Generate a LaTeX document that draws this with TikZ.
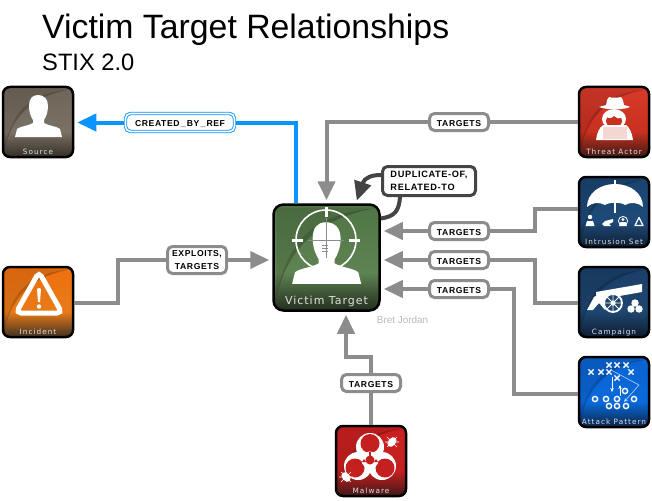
\documentclass[tikz,border=0pt]{standalone}
\usepackage{fontspec}
\setmainfont{Liberation Sans}
\newfontfamily\lblfont{Liberation Sans}[LetterSpace=7]
\newfontfamily\icofont{DejaVu Sans}[LetterSpace=14]
\newfontfamily\icobig{DejaVu Sans}[LetterSpace=9]
\usetikzlibrary{arrows.meta}
\definecolor{gline}{HTML}{8C8C8C}
\definecolor{dline}{HTML}{444444}
\definecolor{bline}{HTML}{0A94FF}
\newcommand{\defshade}[4]{%
  \definecolor{#1d}{HTML}{#2}\definecolor{#1m}{HTML}{#3}\definecolor{#1t}{HTML}{#4}%
  \pgfdeclareverticalshading{#1}{100bp}{color(0bp)=(#1d); color(25bp)=(#1d); color(43bp)=(#1m); color(75bp)=(#1t); color(100bp)=(#1t)}}
\defshade{shsrc}{342E28}{7A7165}{6F655A}
\defshade{shthr}{3E1A14}{C8301F}{D93A2A}
\defshade{shint}{0E1E33}{1E4A78}{1A4470}
\defshade{shcam}{0E1C30}{1D4670}{1A3F68}
\defshade{shatk}{0A2446}{0A6ADB}{0A62D0}
\defshade{shinc}{3E3024}{E87A18}{F0700F}
\defshade{shmal}{401818}{C4201F}{CC2020}
\defshade{shvic}{232E1E}{5F8352}{507545}
\tikzset{
  x=1pt,y=-1pt,
  icon/.style={draw=black,line width=2.5pt,rounded corners=7pt,shade,shading=#1,minimum size=70pt,inner sep=0pt,outer sep=1.25pt},
  iconbig/.style={icon=#1,minimum size=106pt,rounded corners=10pt},
  icotext/.style={text=white!88!black,font=\icofont\fontsize{7.3}{9}\selectfont,inner sep=0pt,anchor=base},
  conn/.style={draw=gline,line width=4pt,line join=miter},
  arr/.style={-{Triangle[length=19pt,width=17pt]},shorten >=3pt},
  rel/.style={draw=gline,fill=white,line width=3pt,rounded corners=5pt,inner sep=0pt,text=black,
    font=\lblfont\bfseries\fontsize{8.6}{13}\selectfont,minimum width=59pt,minimum height=17pt,outer sep=1.5pt,
    execute at begin node={\rule{0pt}{8.2pt}}},
  gl/.style={fill=white,draw=none},
  swoosh/.style={fill=black,fill opacity=.22,draw=none},
  tint/.style={fill=black,fill opacity=.09,draw=none},
}
\newcommand{\swooshpath}{%
  \fill[tint] (3,3) -- (68,3) .. controls (30,6) and (10,25) .. (3,62) -- cycle;
  \fill[swoosh] (68,3.5) .. controls (30,6) and (10,25) .. (3.5,60) .. controls (11,29) and (32,10) .. (68,3.5) -- cycle;}
\newcommand{\personpath}{%
  (36,9) .. controls (42,9) and (46,13) .. (46,20) .. controls (46,26) and (44,31) .. (42,34)
  -- (42,37) .. controls (47,40) and (54,40) .. (58,43) -- (60,51) -- (13,51) -- (15,43)
  .. controls (19,40) and (26,40) .. (31,37) -- (31,34) .. controls (29,31) and (27,26) .. (27,20)
  .. controls (27,13) and (30,9) .. (36,9) -- cycle}
\newcommand{\usc}{\hspace{1.2pt}\_\hspace{1.2pt}}
\begin{document}
\begin{tikzpicture}
\useasboundingbox (0,0) rectangle (652,500);
% titles
\node[anchor=base west,inner sep=0pt,font=\fontsize{33.8}{36}\selectfont] (title) at (42,39) {Victim Target Relationships};
\node[anchor=base west,inner sep=0pt,font=\fontsize{23.7}{26}\selectfont] (sub) at (42,70.5) {STIX 2.0};
% icons
\node[icon=shsrc] (src) at (38,122) {};
\node[icon=shthr] (thr) at (614,122) {};
\node[icon=shint] (int) at (614,212) {};
\node[icon=shcam] (cam) at (614,302) {};
\node[icon=shatk] (atk) at (614,392) {};
\node[icon=shinc] (inc) at (38,302) {};
\node[icon=shmal] (mal) at (371,461) {};
\node[iconbig=shvic] (vic) at (326.5,257.5) {};
% labels
\node[rel,draw=bline,double=white,double distance=1.6pt,line width=.9pt,minimum width=109pt,minimum height=18pt] (lblue) at (180,122.5) {CREATED\usc BY\usc REF};
\node[rel] (lthr) at (459,122) {TARGETS};
\node[rel] (lint) at (459,231) {TARGETS};
\node[rel] (lcam) at (459,260) {TARGETS};
\node[rel] (latk) at (459,289) {TARGETS};
\node[rel] (lmal) at (371,383) {TARGETS};
\node[rel,align=center,minimum height=27pt] (linc) at (197,260) {EXPLOITS,\\TARGETS};
\node[rel,draw=dline,align=left,minimum width=93pt,minimum height=29pt,font=\lblfont\bfseries\fontsize{9.2}{13}\selectfont] (ldup) at (429,181) {DUPLICATE-OF,\\RELATED-TO};
% connectors
\draw[conn,draw=bline] ([xshift=-30.5pt]vic.north) |- (lblue.east);
\draw[conn,draw=bline,arr,-{Triangle[length=19pt,width=17pt,fill=bline]}] (lblue.west) -- (lblue.west -| src.east);
\draw[conn] (thr.west) -- (lthr.east);
\draw[conn,arr] (lthr.west) -| (vic.north);
\draw[conn] ([yshift=3pt]int.west) -- ++(-43,0) |- (lint.east);
\draw[conn,arr] (lint.west) -- (lint.west -| vic.east);
\draw[conn] ([yshift=-1pt]cam.west) -- ++(-43,0) |- (lcam.east);
\draw[conn,arr] (lcam.west) -- (lcam.west -| vic.east);
\draw[conn] ([yshift=-2pt]atk.west) -- ++(-64,0) |- (latk.east);
\draw[conn,arr] (latk.west) -- (latk.west -| vic.east);
\draw[conn] ([yshift=-1pt]inc.east) -- ++(44,0) |- (linc.west);
\draw[conn,arr] (linc.east) -- (linc.east -| vic.west);
\draw[conn] (mal.north) -- (lmal.south);
\draw[conn,arr] (lmal.north) |- ([xshift=19.5pt,yshift=-45pt]vic.south) -- ([xshift=19.5pt]vic.south);
\draw[conn,draw=dline] ([yshift=39pt]vic.east) .. controls +(14,-2) and +(-1,14) .. ([xshift=-29pt]ldup.south);
\draw[conn,draw=dline,-{Triangle[length=19pt,width=17pt]},shorten >=1pt] ([yshift=6pt]ldup.west) .. controls +(-9,0) and +(8,-24) .. (356.5,201.5);
% source glyph
\begin{scope}[shift={(2,86)}]
  \swooshpath
  \fill[gl] \personpath;
\end{scope}
\node[icotext] (tsrc) at (38,154) {Source};
% threat actor glyph
\begin{scope}[shift={(578,86)}]
  \swooshpath
  \fill[gl] (28,19) .. controls (29,15) and (29,12) .. (31,11) .. controls (33,12) and (40,12) .. (43,11)
     .. controls (45,12) and (45,15) .. (46,19) .. controls (49,20) and (51,20) .. (52,21)
     .. controls (46,24) and (28,24) .. (21,21) .. controls (23,20) and (25,20) .. (28,19) -- cycle;
  \fill[gl] (36,33) ellipse (12 and 10);
  \fill[shthrm] (36,35) ellipse (8 and 6.5);
  \fill[gl] (28,26.5) .. controls (31,25) and (34,27) .. (36,28) .. controls (38,27) and (42,25) .. (45,26.5)
     .. controls (45,32) and (41,33) .. (39,32) -- (36,30) -- (33,32) .. controls (31,33) and (28,32) .. (28,26.5) -- cycle;
  \fill[gl] (25,39) -- (48,39) .. controls (52,42) and (54,47) .. (55,54) -- (18,54) .. controls (19,47) and (21,42) .. (25,39) -- cycle;
  \fill[white!80!shthrm] (24.5,41) rectangle (48.5,52.5);
\end{scope}
\node[icotext] (tthr) at (614,154) {Threat Actor};
% intrusion set glyph
\begin{scope}[shift={(578,176)}]
  \swooshpath
  \draw[white,line width=1.2pt] (37,4) -- (37,37);
  \fill[gl] (9,31) .. controls (9,17) and (22,8) .. (37,8) .. controls (52,8) and (65,17) .. (65,31)
    .. controls (60,26) and (52,26) .. (47,29) .. controls (43,26) and (31,26) .. (27,29) .. controls (22,26) and (14,26) .. (9,31) -- cycle;
  % small figures
  \fill[gl] (12,41) circle (2.2);
  \fill[gl] (7.5,50) -- (9,45) -- (15,45) -- (16.5,50) -- cycle;
  \fill[gl] (24,48) -- (27,45) -- (35,43) -- (35,46) -- (31,48) -- (33,50) -- (26,50) -- cycle;
  \draw[white,line width=.8pt] (45,45) circle (4.6);
  \fill[gl] (45,43.5) circle (1.7);
  \fill[gl] (41,50) -- (42.5,46) -- (47.5,46) -- (49,50) -- cycle;
  \draw[white,line width=1.2pt,line join=round] (61,41.5) -- (57,49.5) -- (65,49.5) -- cycle;
\end{scope}
\node[icotext] (tint) at (614,244) {Intrusion Set};
% campaign glyph
\begin{scope}[shift={(578,266)}]
  \swooshpath
  \fill[gl] (18,26) -- (64,18) -- (64,26) -- (36,31) -- (19,37) -- cycle;
  \fill[gl] (9,44) -- (15,44) -- (21,37) -- (27,44) -- (29,38) -- (21,28) -- (16,31) -- cycle;
  \fill[shcamm] (35,37) circle (9);
  \draw[white,line width=1.8pt] (35,37) circle (9);
  \draw[white,line width=.9pt] (35,28.5) -- (35,45.5) (26.5,37) -- (43.5,37) (29,31) -- (41,43) (29,43) -- (41,31);
  \fill[gl] (35,37) circle (2.6);
  \fill[gl] (57,37) circle (3.7);
  \fill[gl] (53,43) circle (3.7);
  \fill[gl] (61,43) circle (3.7);
\end{scope}
\node[icotext] (tcam) at (614,334) {Campaign};
% attack pattern glyph
\begin{scope}[shift={(578,356)}]
  \swooshpath
  \foreach \a/\b in {31/9,39/9,48/9,13/16,23/16,31/16,53/16,39/22}
    \draw[white,line width=1.4pt] (\a-2.6,\b-2.6) -- (\a+2.6,\b+2.6) (\a-2.6,\b+2.6) -- (\a+2.6,\b-2.6);
  \foreach \a/\b in {47/35,17/43,28/43,39/43,56/43,31/50,39/50,48/50}
    \draw[white,line width=1.4pt] (\a,\b) circle (2.6);
  \draw[white!70!shatkm,line width=.6pt,-{Stealth[length=4pt,width=3.5pt]}] (33,14) -- (61,29) -- (46,46);
  \draw[white,line width=.7pt,-{Stealth[length=4pt,width=3.5pt]}] (34,21) -- (34,36);
  \draw[white,line width=.7pt,-{Stealth[length=4pt,width=3.5pt]}] (42,40) -- (42,29);
\end{scope}
\node[icotext] (tatk) at (614,424) {Attack Pattern};
% incident glyph
\begin{scope}[shift={(2,266)}]
  \swooshpath
  \draw[white,line width=5pt,rounded corners=5pt] (37,6) -- (14,47) -- (60,47) -- cycle;
  \fill[gl] (35,23) .. controls (36,21.5) and (38,21.5) .. (39,23) -- (38,36) -- (36,36) -- cycle;
  \fill[gl] (37,40.5) circle (2.2);
\end{scope}
\node[icotext] (tinc) at (38,334) {Incident};
% malware glyph
\begin{scope}[shift={(335,425)}]
  \swooshpath
  \foreach \a/\b in {35/22, 23/41, 47/41}{
    \fill[gl] (\a,\b) circle (14);
  }
  \foreach \c/\d in {35/18.5, 20/43, 50/43}{
    \fill[shmalm] (\c,\d) circle (9.5);
  }
  \fill[shmalm] (35,35) circle (4.5);
  \draw[white,line width=2pt] (35,35) circle (7.5);
  \fill[shmalm] (33.8,27) rectangle (36.2,31);
  \fill[shmalm] (27,37) -- (29,34) -- (31,37) -- cycle;
  \fill[shmalm] (39,37) -- (41,34) -- (43,37) -- cycle;
  \begin{scope}[white,line width=.6pt]
    \fill[gl,rotate around={-40:(57,17)}] (57,17) ellipse (3.8 and 5.5);
    \draw (52,12) -- (62,22) (50,17) -- (64,17) (52,22) -- (62,12);
    \fill[gl,rotate around={40:(11,52)}] (11,52) ellipse (3.8 and 5.5);
    \draw (6,47) -- (16,57) (4,52) -- (18,52) (6,57) -- (16,47);
  \end{scope}
\end{scope}
\node[icotext] (tmal) at (371,493) {Malware};
% victim glyph
\begin{scope}[shift={(272,203)},scale=1.514]
  \swooshpath
\end{scope}
\begin{scope}[shift={(273,209)},scale=1.47]
  \fill[gl] \personpath;
\end{scope}
\draw[white,line width=1.6pt] (326,240) circle (30);
\draw[white,line width=3pt] (326,207) -- (326,217) (292,240.5) -- (303,240.5) (349,240.5) -- (360,240.5);
\draw[black!45,line width=.5pt] (326,218) -- (326,258) (308,240.5) -- (344,240.5) (322,245) -- (328,245) (322,248) -- (328,248) (322,251) -- (328,251);
\node[icotext,font=\icobig\fontsize{11}{14}\selectfont] (tvic) at (326.5,304) {Victim Target};
\node[anchor=base,inner sep=0pt,text=black!28,font=\fontsize{9.9}{11}\selectfont] (bret) at (402.5,323) {Bret Jordan};
\end{tikzpicture}
\end{document}
